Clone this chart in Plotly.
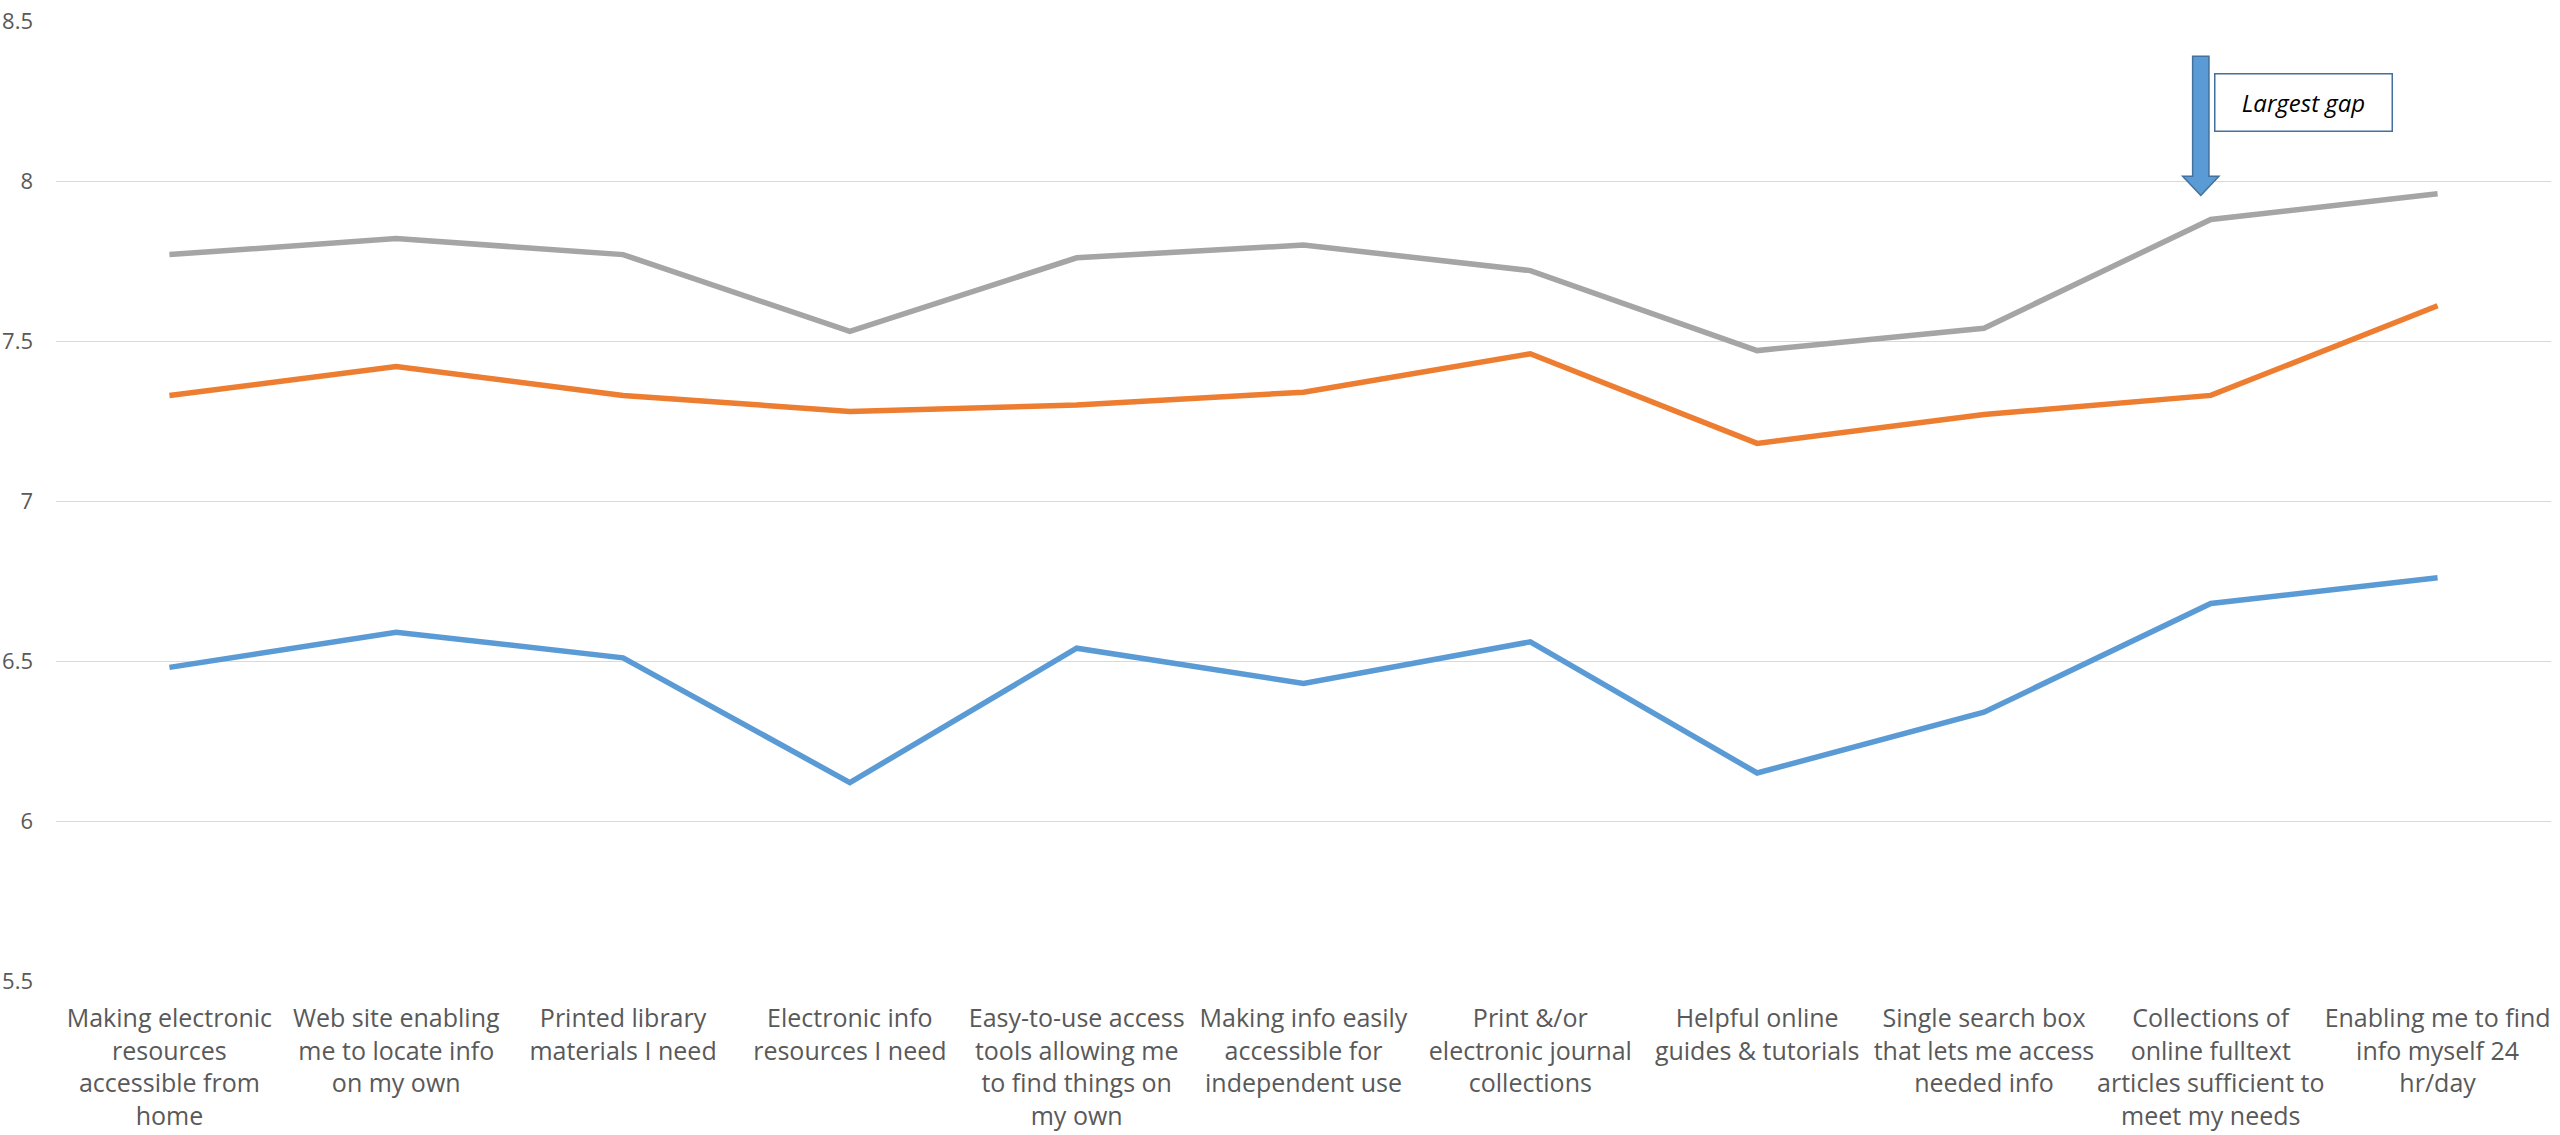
import plotly.graph_objects as go

# Service items (x-axis categories)
categories = [
    "Making electronic<br>resources<br>accessible from<br>home",
    "Web site enabling<br>me to locate info<br>on my own",
    "Printed library<br>materials I need",
    "Electronic info<br>resources I need",
    "Easy-to-use access<br>tools allowing me<br>to find things on<br>my own",
    "Making info easily<br>accessible for<br>independent use",
    "Print &/or<br>electronic journal<br>collections",
    "Helpful online<br>guides & tutorials",
    "Single search box<br>that lets me access<br>needed info",
    "Collections of<br>online fulltext<br>articles sufficient to<br>meet my needs",
    "Enabling me to find<br>info myself 24<br>hr/day",
]

# Mean scores per item
minimum = [6.48, 6.59, 6.51, 6.12, 6.54, 6.43, 6.56, 6.15, 6.34, 6.68, 6.76]
perceived = [7.33, 7.42, 7.33, 7.28, 7.30, 7.34, 7.46, 7.18, 7.27, 7.33, 7.61]
desired = [7.77, 7.82, 7.77, 7.53, 7.76, 7.80, 7.72, 7.47, 7.54, 7.88, 7.96]

y_ticks = [5.5, 6, 6.5, 7, 7.5, 8, 8.5]
y_tick_text = ["5.5", "6", "6.5", "7", "7.5", "8", "8.5"]

series = [
    ("Minimum", minimum, "#5B9BD5"),
    ("Perceived", perceived, "#ED7D31"),
    ("Desired", desired, "#A5A5A5"),
]

fig = go.Figure()
for name, vals, color in series:
    fig.add_trace(go.Scatter(
        x=list(range(len(categories))), y=vals, name=name, mode="lines",
        line=dict(color=color, width=5.5),
    ))

# Block arrow pointing at the largest gap (Collections of online fulltext articles)
ax = 8.956          # arrow centre in category units
shaft_half = 0.036
head_half = 0.08
y_top, y_base, y_tip = 8.39, 8.015, 7.955
arrow_path = (
    f"M {ax - shaft_half},{y_top} L {ax + shaft_half},{y_top} "
    f"L {ax + shaft_half},{y_base} L {ax + head_half},{y_base} "
    f"L {ax},{y_tip} L {ax - head_half},{y_base} "
    f"L {ax - shaft_half},{y_base} Z"
)
fig.add_shape(type="path", path=arrow_path, xref="x", yref="y",
              fillcolor="#5B9BD5", line=dict(color="#41719C", width=1.5),
              layer="above")

fig.add_annotation(
    x=9.015, y=8.3375, xref="x", yref="y", xanchor="left", yanchor="top",
    text="<i>Largest gap</i>", showarrow=False,
    font=dict(family="Open Sans", size=24, color="#000000"),
    bordercolor="#41719C", borderwidth=1.5, borderpad=8,
    bgcolor="#FFFFFF", width=160, height=40, align="center",
)

fig.update_layout(
    width=2560, height=1135,
    margin=dict(l=56, r=9, t=21, b=154),
    paper_bgcolor="#FFFFFF", plot_bgcolor="#FFFFFF",
    showlegend=False,
    font=dict(family="Open Sans", color="#595959"),
)
fig.update_xaxes(
    tickmode="array", tickvals=list(range(len(categories))), ticktext=categories,
    range=[-0.5, len(categories) - 0.5], showgrid=False, zeroline=False,
    showline=False, tickangle=0, tickfont=dict(size=25, color="#595959"),
    ticks="", ticklabelstandoff=20, automargin=False,
)
fig.update_yaxes(
    range=[5.5, 8.5], tickmode="array", tickvals=y_ticks, ticktext=y_tick_text,
    showgrid=True, gridcolor="#D9D9D9", gridwidth=1.3, zeroline=False,
    showline=False, tickfont=dict(size=22, color="#595959"),
    ticks="", ticklabelstandoff=22, automargin=False,
)

fig.write_html("out.html")
